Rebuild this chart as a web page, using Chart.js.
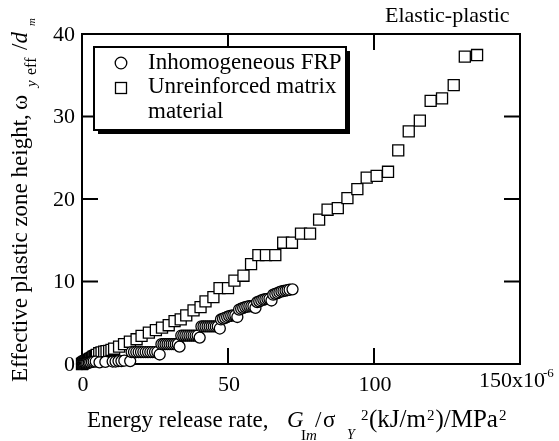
<!DOCTYPE html>
<html>
<head>
<meta charset="utf-8">
<script src="https://cdn.jsdelivr.net/npm/chart.js@4/dist/chart.umd.min.js"></script>
<style>
  html, body { margin: 0; padding: 0; background: #fff; }
  #wrap { width: 559px; height: 441px; }
</style>
</head>
<body>
<div id="wrap"><canvas id="c" width="559" height="441"></canvas></div>
<script>
// G_Im / sigma_Y^2 in units of 1e-6, plastic zone height ratio
const frpG = [0, 0.3, 0.6, 1.0, 1.4, 1.8, 2.3, 2.8, 3.4, 4.0, 4.7, 6.0, 8.0, 10.5, 11.5, 12.5, 13.5, 14.5, 16.5,
  17.0, 17.8, 18.6, 19.4, 20.2, 21.0, 21.8, 22.6, 23.4, 24.2, 25.0, 25.8, 26.6,
  27.2, 27.9, 28.6, 29.3, 30.0, 30.7, 31.4, 32.1, 32.8, 33.4,
  34.0, 34.7, 35.4, 36.1, 36.8, 37.5, 38.2, 38.9, 39.6, 40.3,
  40.9, 41.6, 42.3, 43.0, 43.7, 44.4, 45.1, 45.8, 46.5, 47.2,
  47.6, 48.3, 49.0, 49.7, 50.4, 51.1, 51.8, 52.5, 53.2,
  53.8, 54.5, 55.2, 55.9, 56.6, 57.3, 58.0, 58.7, 59.4,
  60.0, 60.7, 61.4, 62.1, 62.8, 63.5, 64.2, 64.9,
  65.5, 66.2, 66.9, 67.6, 68.3, 69.0, 69.7, 70.4, 71.1, 72.1];
const frpW = [0, 0.02, 0.05, 0.08, 0.1, 0.13, 0.16, 0.2, 0.25, 0.3, 0.3, 0.2, 0.25, 0.3, 0.3, 0.35, 0.35, 0.4, 0.35,
  1.45, 1.45, 1.45, 1.45, 1.45, 1.45, 1.45, 1.45, 1.45, 1.45, 1.45, 1.45, 1.15,
  2.4, 2.4, 2.4, 2.4, 2.4, 2.4, 2.4, 2.4, 2.4, 2.1,
  3.45, 3.45, 3.45, 3.45, 3.45, 3.45, 3.45, 3.45, 3.45, 3.2,
  4.55, 4.55, 4.55, 4.55, 4.55, 4.55, 4.55, 4.55, 4.55, 4.3,
  5.4, 5.5, 5.6, 5.7, 5.8, 5.85, 5.9, 5.9, 5.7,
  6.6, 6.7, 6.8, 6.9, 6.95, 7.0, 7.0, 7.0, 6.8,
  7.5, 7.6, 7.7, 7.8, 7.85, 7.9, 7.9, 7.7,
  8.4, 8.5, 8.6, 8.7, 8.8, 8.85, 8.9, 8.95, 9.0, 9.05];

const matG = [0, 0.2, 0.4, 0.6, 0.8, 1.0, 1.3, 1.5, 1.8, 2.1, 2.4, 2.7, 3.0, 3.4, 3.7, 4.0, 4.4, 4.8, 5.1, 5.9,
  6.7, 7.6, 8.4, 9.3, 10.1, 11.0, 12.7, 14.4, 16.4, 18.7,
  20.4, 22.9, 25.3, 27.4, 29.7, 31.7, 33.8, 35.7, 38.2, 40.6, 42.3, 45.0, 47.1, 50.0, 52.2, 55.3, 57.9,
  60.4, 63.0, 66.2, 68.9, 71.9, 75.0, 78.1, 81.2, 84.1, 87.6, 90.9, 94.3, 97.5, 100.9, 104.8,
  108.3, 111.9, 115.7, 119.4, 123.3, 127.3, 131.1, 135.3];
const matW = [0, 0.05, 0.1, 0.15, 0.2, 0.25, 0.3, 0.35, 0.4, 0.45, 0.5, 0.58, 0.65, 0.72, 0.8, 0.88, 0.95, 1.02, 1.1, 1.3,
  1.4, 1.5, 1.55, 1.6, 1.7, 1.85, 2.1, 2.4, 2.7, 3.0,
  3.4, 3.8, 4.1, 4.4, 4.7, 5.2, 5.4, 5.9, 6.5, 6.9, 7.6, 8.1, 9.2, 9.2, 10.1, 10.7, 12.1,
  13.2, 13.2, 13.2, 14.7, 14.7, 15.8, 15.8, 17.5, 18.7, 18.9, 20.1, 21.2, 22.6, 22.8, 23.3,
  25.9, 28.2, 29.5, 31.9, 32.2, 33.8, 37.25, 37.45];

const xTicks = [0, 50, 100, 150];
const yTicks = [0, 10, 20, 30, 40];
const seriesNames = ['Inhomogeneous FRP', 'Unreinforced matrix', 'material'];

const SERIF = '"Liberation Serif", "Times New Roman", serif';

function pts(xs, ys) { return xs.map((x, i) => ({ x, y: ys[i] })); }

const decor = {
  id: 'decor',
  beforeDatasetsDraw(chart) {
    const { ctx, chartArea: a, scales: { x, y } } = chart;
    ctx.save();
    ctx.strokeStyle = '#000';
    ctx.lineWidth = 2;
    ctx.strokeRect(a.left, a.top, a.right - a.left, a.bottom - a.top);
    const tl = 16;
    ctx.beginPath();
    xTicks.forEach(v => {
      const px = x.getPixelForValue(v);
      ctx.moveTo(px, a.bottom); ctx.lineTo(px, a.bottom - tl);
      ctx.moveTo(px, a.top); ctx.lineTo(px, a.top + tl);
    });
    yTicks.forEach(v => {
      const py = y.getPixelForValue(v);
      ctx.moveTo(a.left, py); ctx.lineTo(a.left + tl, py);
      ctx.moveTo(a.right, py); ctx.lineTo(a.right - tl, py);
    });
    ctx.stroke();
    ctx.restore();
  },
  afterDraw(chart) {
    const { ctx, scales: { x, y } } = chart;
    ctx.save();
    ctx.fillStyle = '#000';

    // tick labels
    ctx.font = '22px ' + SERIF;
    ctx.textAlign = 'right';
    ctx.textBaseline = 'middle';
    yTicks.forEach(v => ctx.fillText(String(v), 75, y.getPixelForValue(v) + 1));
    ctx.textBaseline = 'alphabetic';
    ctx.textAlign = 'center';
    xTicks.slice(0, -1).forEach(v => ctx.fillText(String(v), x.getPixelForValue(v) + 1, 391));
    const p150 = x.getPixelForValue(150);
    ctx.textAlign = 'left';
    ctx.fillText('150x10', p150 - 41, 387);
    ctx.font = '13px ' + SERIF;
    ctx.fillText('-6', p150 + 23, 377);

    // corner label
    ctx.font = '22px ' + SERIF;
    ctx.fillText('Elastic-plastic', 385, 22);

    // x title
    const big = '23px ' + SERIF, bigI = 'italic 23px ' + SERIF;
    const sm = '15px ' + SERIF, smI = 'italic 15px ' + SERIF;
    ctx.font = big; ctx.fillText('Energy release rate,', 87, 427);
    ctx.font = bigI; ctx.fillText('G', 287, 427);
    ctx.font = sm; ctx.fillText('I', 301, 440);
    let w = ctx.measureText('I').width;
    ctx.font = smI; ctx.fillText('m', 301 + w, 440);
    ctx.font = big; ctx.fillText('/', 315, 427);
    ctx.fillText('\u03C3', 323, 427);
    ctx.font = 'italic 14px ' + SERIF; ctx.fillText('Y', 347, 439);
    ctx.font = sm; ctx.fillText('2', 361, 420);
    // unit part, laid out piece after piece
    let cx = 369;
    const unit = [['(kJ/m', '25px ', 427], ['2', '15px ', 420], [')/MPa', '25px ', 427], ['2', '15px ', 420]];
    unit.forEach(([t, f, by]) => {
      ctx.font = f + SERIF;
      ctx.fillText(t, cx, by);
      cx += ctx.measureText(t).width + 1;
    });

    // y title (rotated)
    ctx.save();
    ctx.translate(27, 382);
    ctx.rotate(-Math.PI / 2);
    ctx.font = big; ctx.fillText('Effective plastic zone height,', 0, 0);
    ctx.fillText('\u03C9', 272, 0);
    ctx.font = smI; ctx.fillText('y', 295, 9);
    ctx.font = '16px ' + SERIF; ctx.fillText('eff', 307, 9);
    ctx.font = big; ctx.fillText('/', 332, 0);
    w = ctx.measureText('/').width;
    ctx.font = bigI; ctx.fillText('d', 332 + w, 0);
    ctx.font = 'italic 11px ' + SERIF; ctx.fillText('m', 356, 8);
    ctx.restore();

    // legend box with shadow
    const bx = 94, by = 47, bw = 252, bh = 83;
    ctx.fillStyle = '#000';
    ctx.fillRect(bx + 4, by + 4, bw, bh);
    ctx.fillStyle = '#fff';
    ctx.fillRect(bx, by, bw, bh);
    ctx.strokeStyle = '#000';
    ctx.lineWidth = 2;
    ctx.strokeRect(bx, by, bw, bh);
    ctx.lineWidth = 1.3;
    ctx.beginPath(); ctx.arc(121, 63, 5.8, 0, Math.PI * 2); ctx.stroke();
    ctx.strokeRect(115.5, 82.5, 11, 11);
    ctx.fillStyle = '#000';
    ctx.font = big;
    ctx.fillText(seriesNames[0], 148, 69);
    ctx.fillText(seriesNames[1], 148, 93);
    ctx.fillText(seriesNames[2], 148, 118);
    ctx.restore();
  }
};

new Chart(document.getElementById('c'), {
  type: 'scatter',
  data: {
    datasets: [
      { label: seriesNames[0], data: pts(frpG, frpW), pointStyle: 'circle', pointRadius: 5.5,
        borderColor: '#000', backgroundColor: '#fff', borderWidth: 1.3, clip: false },
      { label: seriesNames[1] + ' ' + seriesNames[2], data: pts(matG, matW), pointStyle: 'rect', pointRadius: 7.8,
        borderColor: '#000', backgroundColor: '#fff', borderWidth: 1.3, clip: false }
    ]
  },
  options: {
    responsive: false,
    animation: false,
    events: [],
    layout: { padding: { left: 82, top: 34, right: 39, bottom: 77 } },
    plugins: { legend: { display: false }, tooltip: { enabled: false } },
    scales: {
      x: { type: 'linear', min: 0, max: 150, display: false },
      y: { type: 'linear', min: 0, max: 40, display: false }
    }
  },
  plugins: [decor]
});
</script>
</body>
</html>
